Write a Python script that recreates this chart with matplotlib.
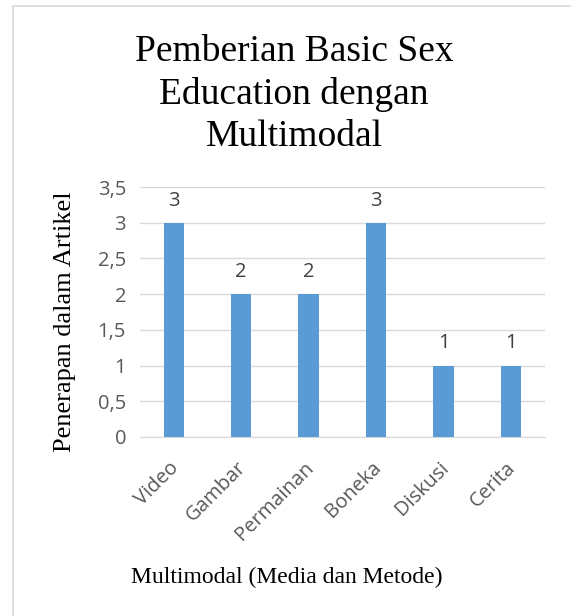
import matplotlib.pyplot as plt
import matplotlib.transforms as mtransforms
from matplotlib.patches import Rectangle

categories = ["Video", "Gambar", "Permainan", "Boneka", "Diskusi", "Cerita"]
values = [3, 2, 2, 3, 1, 1]
yticks = [0, 0.5, 1, 1.5, 2, 2.5, 3, 3.5]
ytick_labels = ["0", "0,5", "1", "1,5", "2", "2,5", "3", "3,5"]

fig = plt.figure(figsize=(5.71, 6.16), dpi=100)
fig.patches.append(Rectangle((13 / 571, -0.1), 1.2, 1 - 6 / 616 + 0.1,
                             transform=fig.transFigure, fill=False,
                             edgecolor="#d9d9d9", linewidth=1.2))

ax = fig.add_axes([0.245, 0.2906, 0.709, 0.4058])
x = range(len(categories))
ax.bar(x, values, width=0.3, color="#5b9bd5", zorder=3)

for i, v in zip(x, values):
    ax.text(i, v + 0.17, str(v), ha="center", va="bottom",
            fontsize=14.5, color="#404040", family="Open Sans")

ax.set_xlim(-0.5, len(categories) - 0.5)
ax.set_ylim(0, 3.5)
ax.set_yticks(yticks)
ax.set_yticklabels(ytick_labels, family="Open Sans", fontsize=14.5, color="#595959")
ax.set_xticks(list(x))
ax.set_xticklabels(categories, rotation=45, ha="right", rotation_mode="anchor",
                   family="Open Sans", fontsize=14.5, color="#595959")
ax.tick_params(axis="y", length=0, pad=10)
ax.tick_params(axis="x", length=0, pad=15)
# nudge rotated labels a little to the left
shift = mtransforms.ScaledTranslation(-5 / 100, 0, fig.dpi_scale_trans)
for lbl in ax.get_xticklabels():
    lbl.set_transform(lbl.get_transform() + shift)
ax.grid(axis="y", color="#d9d9d9", linewidth=1, zorder=0)
for s in ["top", "right", "left"]:
    ax.spines[s].set_visible(False)
ax.spines["bottom"].set_color("#d9d9d9")

fig.text(0.515, 0.847, "Pemberian Basic Sex\nEducation dengan\nMultimodal",
         ha="center", va="center", family="Liberation Serif", fontsize=27,
         linespacing=1.28)
fig.text(0.114, 0.477, "Penerapan dalam Artikel", rotation=90, ha="center",
         va="center", family="Liberation Serif", fontsize=19)
fig.text(0.503, 0.063, "Multimodal (Media dan Metode)", ha="center",
         va="center", family="Liberation Serif", fontsize=17)

fig.savefig("out.png", dpi=100)
